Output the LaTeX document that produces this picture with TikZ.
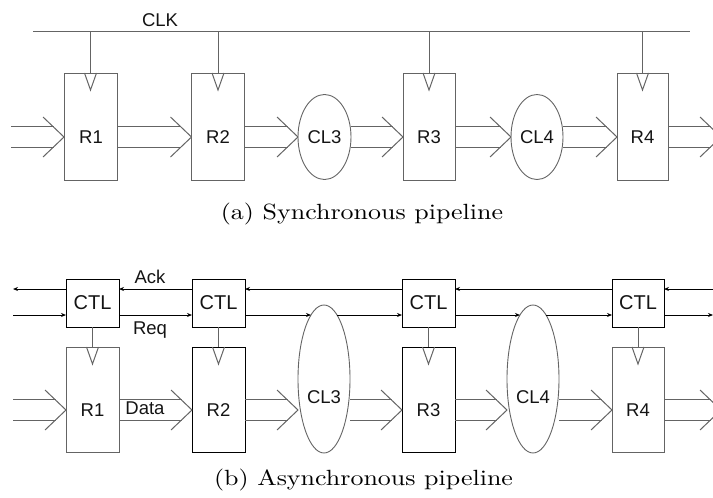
\documentclass[tikz,border=0pt]{standalone}
\usepackage{fontspec}
\newfontfamily\labfont{Liberation Sans}
\newfontfamily\capfont{lmroman10-regular}[Extension=.otf,FakeStretch=1.18]
\usetikzlibrary{arrows.meta,shapes.geometric,calc}
\definecolor{dgray}{RGB}{100,100,100}
\definecolor{txt}{RGB}{20,20,20}
\tikzset{
  reg/.style={draw=#1, line width=1pt, rectangle, inner sep=0pt, outer sep=0pt, minimum width=53pt},
  reg/.default=dgray,
  clbox/.style={ellipse, draw=dgray, line width=0.9pt, inner sep=0pt, outer sep=0pt},
  ctlbox/.style={draw=black, line width=1pt, rectangle, inner sep=0pt, outer sep=0pt, minimum width=53pt, minimum height=48pt,
     font=\labfont\fontsize{20}{22}\selectfont, text=txt},
  lab/.style={font=\labfont\fontsize{18.5}{20}\selectfont, text=txt, inner sep=0pt},
  captxt/.style={font=\capfont\fontsize{22}{26}\selectfont, text=black, inner sep=0pt, anchor=base},
  data/.style={draw=dgray, line width=1pt},
  sig/.style={draw=black, line width=0.9pt, -{Stealth[length=5pt,width=4pt]}},
  clkln/.style={draw=dgray, line width=1pt}
}
\newcommand\dflow[2]{%
  \draw[data] ($(#1 |- #2)+(0,-10.5)$) -- ($(#2)+(-10.5,-10.5)$);
  \draw[data] ($(#1 |- #2)+(0,10.5)$) -- ($(#2)+(-10.5,10.5)$);
  \draw[data] ($(#2)+(-21,-20)$) -- (#2) -- ($(#2)+(-21,20)$);}
\newcommand\clktri[1]{%
  \draw[data] ($(#1)+(-6,0)$) -- ($(#1)+(0,17)$) -- ($(#1)+(6,0)$);}
\begin{document}
\begin{tikzpicture}[x=1pt,y=-1pt]
\useasboundingbox (0,0) rectangle (713,498);
\clip (0,0) rectangle (713,498);
% ---------------- (a) synchronous ----------------
\coordinate (clkL) at (33,31);
\coordinate (clkR) at (690,31);
\draw[clkln] (clkL) -- (clkR);
\node[lab] (clk) at (160,20) {CLK};
\node[reg, minimum height=107pt] (r1) at (90.5,126.5) {};
\node[reg, minimum height=107pt] (r2) at (218,126.5) {};
\node[reg, minimum height=107pt, minimum width=52pt] (r3) at (429,126.5) {};
\node[reg, minimum height=107pt, minimum width=51pt] (r4) at (642.5,126.5) {};
\node[clbox, minimum width=53pt, minimum height=85pt] (cl3) at (324.5,137) {};
\node[clbox, minimum width=52pt, minimum height=85pt] (cl4) at (537,137) {};
\node[lab] (r1t) at (91,137) {R1};
\node[lab] (r2t) at (218,137) {R2};
\node[lab] (r3t) at (429,137) {R3};
\node[lab] (r4t) at (642.5,137) {R4};
\node[lab] (cl3t) at (324.5,137) {CL3};
\node[lab] (cl4t) at (537,137) {CL4};
\foreach \r in {r1,r2,r3,r4}{
  \draw[clkln] (\r.north |- clkL) -- (\r.north);
  \clktri{\r.north}
}
\coordinate (ain) at (11,137);
\coordinate (aout) at (721,137);
\coordinate (ta1) at (r1.west |- ain);
\coordinate (ta2) at (r2.west |- ain);
\coordinate (ta3) at (cl3.west);
\coordinate (ta4) at (r3.west |- ain);
\coordinate (ta5) at (cl4.west);
\coordinate (ta6) at (r4.west |- ain);
\dflow{ain}{ta1}
\dflow{r1.east}{ta2}
\dflow{r2.east}{ta3}
\dflow{cl3.east}{ta4}
\dflow{r3.east}{ta5}
\dflow{cl4.east}{ta6}
\dflow{r4.east}{aout}
\node[captxt] (capa) at (362,219) {(a) Synchronous pipeline};
% ---------------- (b) asynchronous ----------------
\node[ctlbox] (c1) at (92.5,303) {CTL};
\node[ctlbox] (c2) at (218.5,303) {CTL};
\node[ctlbox] (c3) at (428.5,303) {CTL};
\node[ctlbox, minimum width=52pt] (c4) at (638,303) {CTL};
\node[reg, minimum height=105pt] (b1) at (92.5,399.5) {};
\node[reg=black, minimum height=105pt] (b2) at (218.5,399.5) {};
\node[reg=black, minimum height=105pt] (b3) at (428.5,399.5) {};
\node[reg, minimum height=105pt, minimum width=52pt] (b4) at (638,399.5) {};
\node[clbox, minimum width=52pt, minimum height=148pt] (e3) at (324,379) {};
\node[clbox, minimum width=52pt, minimum height=148pt] (e4) at (533,379) {};
\node[lab] (b1t) at (92.5,410) {R1};
\node[lab] (b2t) at (218.5,410) {R2};
\node[lab] (b3t) at (428.5,410) {R3};
\node[lab] (b4t) at (638,410) {R4};
\node[lab] (e3t) at (324,397) {CL3};
\node[lab] (e4t) at (533,397) {CL4};
\node[lab] (dat) at (145,408) {Data};
\node[lab] (ack) at (150,277) {Ack};
\node[lab] (req) at (150,330) {Req};
\foreach \c/\b in {c1/b1,c2/b2,c3/b3,c4/b4}{
  \draw[data] (\c.south) -- (\b.north);
  \clktri{\b.north}
}
% Ack (right to left)
\coordinate (ackR) at (713,289);
\coordinate (ackL) at (13,289);
\draw[sig] (ackR) -- (c4.east |- ackR);
\draw[sig] (c4.west |- ackR) -- (c3.east |- ackR);
\draw[sig] (c3.west |- ackR) -- (c2.east |- ackR);
\draw[sig] (c2.west |- ackR) -- (c1.east |- ackR);
\draw[sig] (c1.west |- ackR) -- (ackL);
% Req (left to right)
\coordinate (reqL) at (13,315);
\coordinate (reqR) at (713,315);
\coordinate (e3in) at ($(e3.center)+(-13,-64)$);
\coordinate (e3out) at ($(e3.center)+(13,-64)$);
\coordinate (e4in) at ($(e4.center)+(-13,-64)$);
\coordinate (e4out) at ($(e4.center)+(13,-64)$);
\draw[sig] (reqL) -- (c1.west |- reqL);
\draw[sig] (c1.east |- reqL) -- (c2.west |- reqL);
\draw[sig] (c2.east |- reqL) -- (e3in);
\draw[sig] (e3out) -- (c3.west |- reqL);
\draw[sig] (c3.east |- reqL) -- (e4in);
\draw[sig] (e4out) -- (c4.west |- reqL);
\draw[sig] (c4.east |- reqL) -- (reqR);
% data path
\coordinate (bin) at (13,410);
\coordinate (bout) at (721,410);
\coordinate (tb1) at (b1.west |- bin);
\coordinate (tb2) at (b2.west |- bin);
\coordinate (tb3) at (e3.west |- bin);
\coordinate (tb4) at (b3.west |- bin);
\coordinate (tb5) at (e4.west |- bin);
\coordinate (tb6) at (b4.west |- bin);
\dflow{bin}{tb1}
\dflow{b1.east}{tb2}
\dflow{b2.east}{tb3}
\dflow{e3.east}{tb4}
\dflow{b3.east}{tb5}
\dflow{e4.east}{tb6}
\dflow{b4.east}{bout}
\node[captxt] (capb) at (363.5,485) {(b) Asynchronous pipeline};
\end{tikzpicture}
\end{document}
